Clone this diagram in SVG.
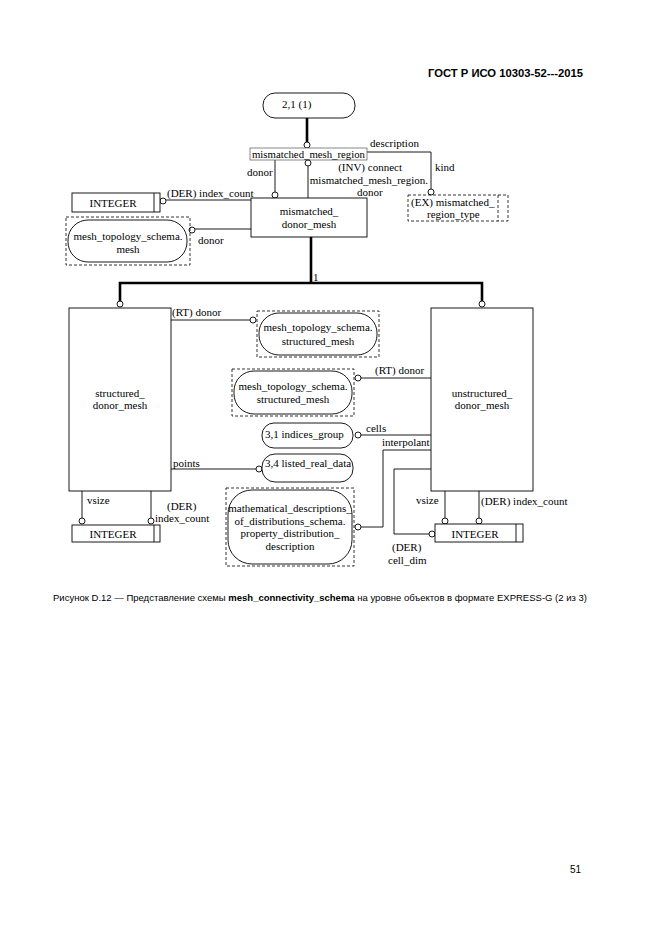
<svg xmlns="http://www.w3.org/2000/svg" width="661" height="936" viewBox="0 0 661 936">
<style>
.bg{fill:#fff}
.box{fill:#fff;stroke:#000;stroke-width:0.9}
.dbox{fill:none;stroke:#000;stroke-width:0.8;stroke-dasharray:3,2}
.rbox{fill:#fff;stroke:#000;stroke-width:0.9}
.ln{fill:none;stroke:#000;stroke-width:0.9}
.thick{fill:none;stroke:#000;stroke-width:2.6}
.c{fill:#fff;stroke:#000;stroke-width:0.9}
text{font-family:"Liberation Serif","Times New Roman",serif;font-size:11px;fill:#000}
.m{text-anchor:middle}
.e{text-anchor:end}
.hdr{font-family:"Liberation Sans",Arial,sans-serif;font-weight:bold;font-size:11.5px}
.cap{font-family:"Liberation Sans",Arial,sans-serif;font-size:9.6px}
</style>
<rect class="bg" x="0" y="0" width="661" height="936"/>
<text class="hdr" x="428" y="77" textLength="155" lengthAdjust="spacingAndGlyphs">ГОСТ Р ИСО 10303-52---2015</text>

<g id="connectors">
  <!-- 2,1 (1) to mismatched_mesh_region -->
  <line class="thick" x1="307" y1="118" x2="307" y2="142"/>
  <circle class="c" cx="307" cy="145" r="3"/>
  <!-- description / kind -->
  <polyline class="ln" points="367,152 431,152 431,189"/>
  <circle class="c" cx="431" cy="192" r="3"/>
  <!-- donor -->
  <line class="ln" x1="275" y1="160" x2="275" y2="192"/>
  <circle class="c" cx="275" cy="195" r="3"/>
  <!-- INV connect -->
  <circle class="c" cx="308" cy="163" r="3"/>
  <line class="ln" x1="308" y1="166" x2="308" y2="198"/>
  <!-- DER index_count -->
  <circle class="c" cx="163" cy="201" r="3"/>
  <line class="ln" x1="166" y1="200" x2="251" y2="200"/>
  <!-- donor to mesh -->
  <circle class="c" cx="192" cy="230" r="3"/>
  <line class="ln" x1="195" y1="229" x2="251" y2="229"/>
  <!-- supertype tree -->
  <polyline class="thick" points="311,237 311,283"/>
  <polyline class="thick" points="120,301 120,283 482,283 482,301"/>
  <circle class="c" cx="120" cy="304" r="3"/>
  <circle class="c" cx="482" cy="304" r="3"/>
  <!-- structured RT donor -->
  <line class="ln" x1="171" y1="320" x2="250" y2="320"/>
  <circle class="c" cx="253" cy="320" r="3"/>
  <!-- unstructured RT donor -->
  <circle class="c" cx="358" cy="378" r="3"/>
  <line class="ln" x1="361" y1="378" x2="431" y2="378"/>
  <!-- cells -->
  <circle class="c" cx="358" cy="435" r="3"/>
  <line class="ln" x1="361" y1="435" x2="431" y2="435"/>
  <!-- interpolant -->
  <polyline class="ln" points="431,450 383,450 383,527 361,527"/>
  <circle class="c" cx="358" cy="527" r="3"/>
  <!-- points -->
  <line class="ln" x1="171" y1="469" x2="256" y2="469"/>
  <circle class="c" cx="259" cy="469" r="3"/>
  <!-- cell_dim -->
  <polyline class="ln" points="431,469 394,469 394,534 429,534"/>
  <circle class="c" cx="432" cy="534" r="3"/>
  <!-- right vsize / index_count -->
  <line class="ln" x1="445" y1="491" x2="445" y2="518"/>
  <circle class="c" cx="445" cy="521" r="3"/>
  <line class="ln" x1="479" y1="491" x2="479" y2="518"/>
  <circle class="c" cx="479" cy="521" r="3"/>
  <!-- left vsize / index_count -->
  <line class="ln" x1="82" y1="491" x2="82" y2="518"/>
  <circle class="c" cx="82" cy="521" r="3"/>
  <line class="ln" x1="151" y1="491" x2="151" y2="518"/>
  <circle class="c" cx="151" cy="521" r="3"/>

  <!-- connector labels -->
  <text x="370" y="147">description</text>
  <text x="247" y="176">donor</text>
  <text class="e" x="402" y="171">(INV) connect</text>
  <text class="e" x="428" y="184">mismatched_mesh_region.</text>
  <text x="357" y="196">donor</text>
  <text x="435" y="171">kind</text>
  <text x="167" y="197">(DER) index_count</text>
  <text x="198" y="244">donor</text>
  <text x="313" y="281">1</text>
  <text x="172" y="316">(RT) donor</text>
  <text x="375" y="374">(RT) donor</text>
  <text x="366" y="432">cells</text>
  <text x="382" y="446">interpolant</text>
  <text x="173" y="467">points</text>
  <text x="87" y="504">vsize</text>
  <text x="167" y="510">(DER)</text>
  <text x="155" y="522">index_count</text>
  <text x="416" y="504">vsize</text>
  <text x="481" y="505">(DER) index_count</text>
  <text x="392" y="551">(DER)</text>
  <text x="388" y="564">cell_dim</text>
</g>

<g id="n_2_1">
  <rect class="rbox" x="263" y="93" width="92" height="25" rx="12"/>
  <text x="282" y="108">2,1 (1)</text>
</g>

<g id="mismatched_mesh_region">
  <rect class="box" x="250" y="148" width="117" height="12" style="stroke:#555;stroke-width:0.7"/>
  <text class="m" x="308.5" y="158" textLength="113" lengthAdjust="spacingAndGlyphs">mismatched_mesh_region</text>
</g>

<g id="mismatched_region_type">
  <rect class="dbox" x="408" y="195" width="100" height="26"/>
  <line class="dbox" x1="498" y1="195" x2="498" y2="221"/>
  <text x="411" y="206">(EX) mismatched_</text>
  <text x="427" y="218">region_type</text>
</g>

<g id="integer_top">
  <rect class="box" x="72" y="193" width="88" height="19"/>
  <line class="ln" x1="154" y1="193" x2="154" y2="212"/>
  <text class="m" x="113" y="207">INTEGER</text>
</g>

<g id="mesh">
  <rect class="dbox" x="66" y="217" width="124" height="48"/>
  <rect class="rbox" x="68" y="220" width="119" height="42" rx="20"/>
  <text class="m" x="128" y="240">mesh_topology_schema.</text>
  <text class="m" x="128" y="253">mesh</text>
</g>

<g id="mismatched_donor_mesh">
  <rect class="box" x="251" y="198" width="116" height="39"/>
  <text class="m" x="309" y="215">mismatched_</text>
  <text class="m" x="309" y="228">donor_mesh</text>
</g>

<g id="structured_donor_mesh">
  <rect class="box" x="69" y="308" width="102" height="183"/>
  <text class="m" x="120" y="397">structured_</text>
  <text class="m" x="120" y="409">donor_mesh</text>
</g>

<g id="unstructured_donor_mesh">
  <rect class="box" x="431" y="308" width="102" height="183"/>
  <text class="m" x="482" y="397">unstructured_</text>
  <text class="m" x="482" y="409">donor_mesh</text>
</g>

<g id="structured_mesh_1">
  <rect class="dbox" x="257" y="311" width="122" height="46"/>
  <rect class="rbox" x="259" y="313" width="118" height="42" rx="20"/>
  <text class="m" x="318" y="331">mesh_topology_schema.</text>
  <text class="m" x="318" y="345">structured_mesh</text>
</g>

<g id="structured_mesh_2">
  <rect class="dbox" x="232" y="369" width="122" height="47"/>
  <rect class="rbox" x="234" y="371" width="118" height="43" rx="20"/>
  <text class="m" x="293" y="390">mesh_topology_schema.</text>
  <text class="m" x="293" y="403">structured_mesh</text>
</g>

<g id="indices_group">
  <rect class="rbox" x="262" y="423" width="91" height="25" rx="12"/>
  <text x="265" y="438">3,1 indices_group</text>
</g>

<g id="listed_real_data">
  <rect class="rbox" x="262" y="454" width="91" height="28" rx="13"/>
  <text x="265" y="467">3,4 listed_real_data</text>
</g>

<g id="property_distribution_description">
  <rect class="dbox" x="226" y="488" width="128" height="78"/>
  <rect class="rbox" x="228" y="490" width="124" height="74" rx="24"/>
  <text class="m" x="290" y="512">mathematical_descriptions_</text>
  <text class="m" x="290" y="525">of_distributions_schema.</text>
  <text class="m" x="290" y="537">property_distribution_</text>
  <text class="m" x="290" y="550">description</text>
</g>

<g id="integer_left">
  <rect class="box" x="72" y="525" width="88" height="17"/>
  <line class="ln" x1="154" y1="525" x2="154" y2="542"/>
  <text class="m" x="113" y="538">INTEGER</text>
</g>

<g id="integer_right">
  <rect class="box" x="435" y="524" width="88" height="18"/>
  <line class="ln" x1="516" y1="524" x2="516" y2="542"/>
  <text class="m" x="475" y="538">INTEGER</text>
</g>

<text class="cap" x="53" y="601" textLength="534" lengthAdjust="spacingAndGlyphs">Рисунок D.12 — Представление схемы <tspan font-weight="bold">mesh_connectivity_schema</tspan> на уровне объектов в формате EXPRESS-G (2 из 3)</text>
<text class="cap" x="570" y="873" style="font-size:10px">51</text>
</svg>
